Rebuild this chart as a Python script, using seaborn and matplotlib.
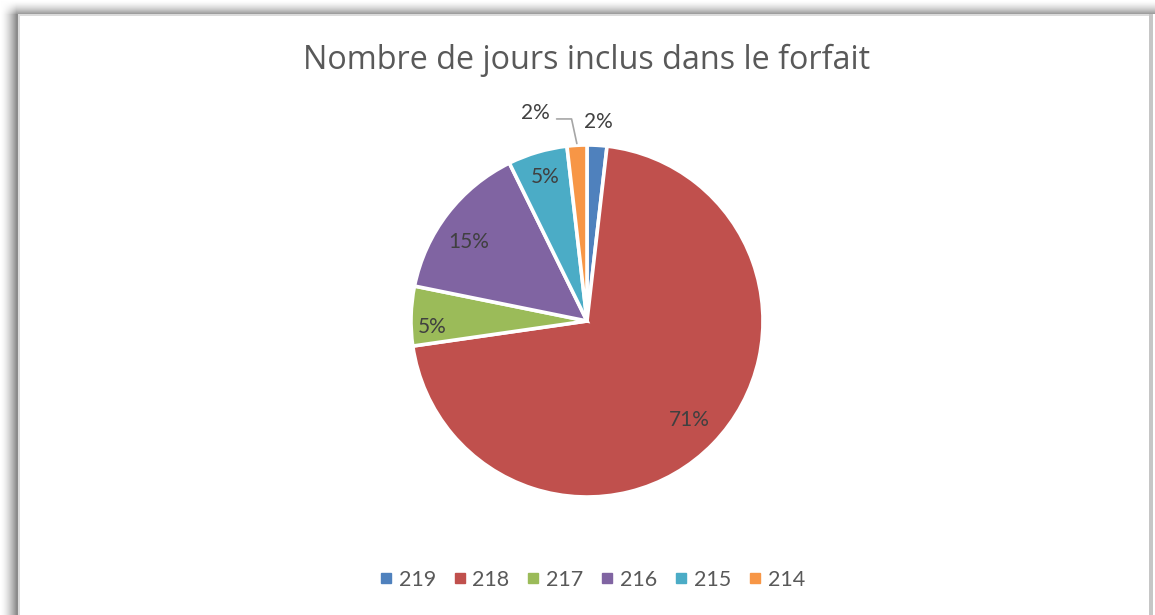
import numpy as np
import seaborn as sns
import matplotlib.pyplot as plt
from matplotlib.lines import Line2D

# data
categories = ['219', '218', '217', '216', '215', '214']
counts = [1, 39, 3, 8, 3, 1]
pct_labels = ['2%', '71%', '5%', '15%', '5%', '2%']
colors = ['#4F81BD', '#C0504D', '#9BBB59', '#8064A2', '#4BACC6', '#F79646']

sns.set_theme(style='white')
plt.rcParams['font.family'] = ['Lato', 'DejaVu Sans']

W, H = 1155, 615
fig = plt.figure(figsize=(W / 100, H / 100), dpi=100)

# frame with soft shadow (Excel chart look)
x = np.arange(W, dtype=float)
y = np.arange(H, dtype=float)
left = 1 - 0.45 * np.clip(x / 16.0, 0, 1) ** 1.6
top = 1 - 0.38 * np.clip(y / 13.0, 0, 1) ** 1.6
bg = np.ones((H, W))
bg[:, :18] = left[None, :18]
bg[:14, :] = np.minimum(bg[:14, :], top[:14, None])
bg[:14, :18] = 1 - (1 - left[None, :18]) * (1 - top[:14, None]) / 0.45
bg[14:16, 18:1151] = 0.86
bg[14:, 18:20] = 0.86
bg[14:, 1149:1153] = 0.78
bax = fig.add_axes([0, 0, 1, 1], zorder=-1)
bax.imshow(np.dstack([bg] * 3), aspect='auto', interpolation='nearest')
bax.axis('off')

# pie
cx, cy, r = 587, H - 321, 176
ax = fig.add_axes([(cx - r) / W, (cy - r) / H, 2 * r / W, 2 * r / H])
wedges, _ = ax.pie(counts, colors=colors, startangle=90, counterclock=False,
                   wedgeprops=dict(edgecolor='white', linewidth=2.6))
ax.set_xlim(-1, 1)
ax.set_ylim(-1, 1)
ax.set_aspect('equal')

label_r = [1.13, 0.81, 0.88, 0.81, 0.85]
label_shift = [0, 0, 4, 4, 0]
for w, lab, lr, sh in zip(wedges, pct_labels, label_r, label_shift):
    mid = np.deg2rad((w.theta1 + w.theta2) / 2 + sh)
    ax.text(lr * np.cos(mid), lr * np.sin(mid), lab, ha='center', va='center',
            fontsize=15, color='#404040', clip_on=False)

# last slice label with leader line
w = wedges[-1]
mid = np.deg2rad((w.theta1 + w.theta2) / 2)
x0, y0 = np.cos(mid) * 1.01, np.sin(mid) * 1.01
ax.plot([x0, x0 - 0.03, x0 - 0.115], [y0, 1.148, 1.148], color='#A6A6A6',
        lw=1.2, clip_on=False)
ax.text(x0 - 0.155, 1.18, pct_labels[-1], ha='right', va='center',
        fontsize=15, color='#404040', clip_on=False)

fig.text(cx / W, 1 - 60 / H, 'Nombre de jours inclus dans le forfait',
         ha='center', va='center', fontsize=23.3, color='#595959',
         family=['Open Sans', 'DejaVu Sans'])

handles = [Line2D([], [], marker='s', linestyle='none', markersize=7,
                  markerfacecolor=c, markeredgecolor=c) for c in colors]
fig.legend(handles, categories, loc='center', bbox_to_anchor=(591 / W, 1 - 580 / H),
           ncol=6, frameon=False, fontsize=15.5, labelcolor='#595959',
           handletextpad=0.2, columnspacing=0.7, handlelength=0.8)

fig.savefig('out.png', dpi=100)
